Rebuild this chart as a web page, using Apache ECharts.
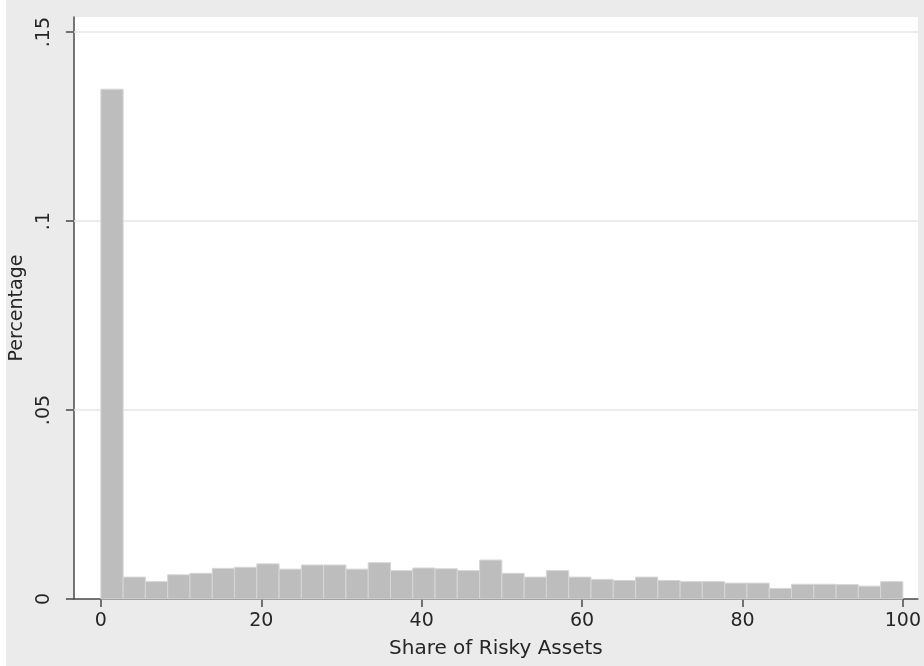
<!DOCTYPE html>
<html>
<head>
<meta charset="utf-8">
<script src="https://cdn.jsdelivr.net/npm/echarts@6/dist/echarts.min.js"></script>
<style>
  html, body { margin: 0; padding: 0; background: #fff; }
  #main { width: 924px; height: 666px; }
</style>
</head>
<body>
<div id="main"></div>
<script>
// histogram: 36 equal bins over 0..100
var binCount = 36;
var binWidth = 100 / binCount;
var shares = [
  0.1349, 0.0058, 0.0046, 0.0064, 0.0068, 0.0081, 0.0084, 0.0093, 0.0079,
  0.0090, 0.0090, 0.0079, 0.0096, 0.0075, 0.0082, 0.0080, 0.0075, 0.0103,
  0.0068, 0.0058, 0.0075, 0.0058, 0.0052, 0.0049, 0.0058, 0.0049, 0.0046,
  0.0046, 0.0042, 0.0042, 0.0028, 0.0039, 0.0039, 0.0038, 0.0034, 0.0046
];
var xTicks = [0, 20, 40, 60, 80, 100];
var yTicks = [0, 0.05, 0.1, 0.15];

var chartDom = document.getElementById('main');
var myChart = echarts.init(chartDom);

var barData = shares.map(function (v, i) {
  return [i * binWidth, (i + 1) * binWidth, v];
});

function fmtY(v) {
  if (v === 0) return '0';
  return String(v).replace(/^0/, '');
}

var axisColor = '#4a4a4a';
var textColor = '#262626';
var font = 'DejaVu Sans';

var option = {
  animation: false,
  backgroundColor: '#ebebeb',
  graphic: [
    { type: 'rect', left: 0, top: 0, shape: { width: 6, height: 666 }, style: { fill: '#ffffff' }, silent: true }
  ],
  grid: {
    left: 73, right: 6, top: 17, bottom: 67,
    show: true, backgroundColor: '#ffffff', borderWidth: 0
  },
  xAxis: {
    type: 'value',
    min: -3.36, max: 101.87,
    name: 'Share of Risky Assets',
    nameLocation: 'middle',
    nameGap: 40,
    nameTextStyle: { fontFamily: font, fontSize: 20, color: textColor },
    axisLine: { show: true, onZero: false, lineStyle: { color: axisColor, width: 1.5 } },
    axisTick: { show: true, length: 8, customValues: xTicks, lineStyle: { color: axisColor, width: 1.5 } },
    axisLabel: { customValues: xTicks, margin: 13, fontFamily: font, fontSize: 19, color: textColor },
    splitLine: { show: false }
  },
  yAxis: {
    type: 'value',
    min: 0, max: 0.154,
    name: 'Percentage',
    nameLocation: 'middle',
    nameGap: 45,
    nameRotate: 90,
    nameTextStyle: { fontFamily: font, fontSize: 19, color: textColor },
    axisLine: { show: true, onZero: false, lineStyle: { color: axisColor, width: 1.5 } },
    axisTick: { show: true, length: 8, customValues: yTicks, lineStyle: { color: axisColor, width: 1.5 } },
    axisLabel: {
      customValues: yTicks, rotate: 90, margin: 20,
      fontFamily: font, fontSize: 19, color: textColor,
      formatter: fmtY
    },
    splitLine: { show: false }
  },
  series: [{
    // grid lines only, kept under the bars
    type: 'line',
    data: [],
    z: 1,
    silent: true,
    markLine: {
      silent: true,
      symbol: 'none',
      z: 1,
      label: { show: false },
      lineStyle: { color: '#e6e6e6', width: 1.5, type: 'solid' },
      data: yTicks.slice(1).map(function (v) { return { yAxis: v }; })
    }
  }, {
    type: 'custom',
    data: barData,
    encode: { x: [0, 1], y: 2 },
    renderItem: function (params, api) {
      var p0 = api.coord([api.value(0), api.value(2)]);
      var p1 = api.coord([api.value(1), 0]);
      return {
        type: 'rect',
        shape: { x: p0[0], y: p0[1], width: p1[0] - p0[0], height: p1[1] - p0[1] },
        style: { fill: '#bdbdbd', stroke: '#d6d6d6', lineWidth: 1 }
      };
    },
    z: 6
  }]
};

myChart.setOption(option);
window.addEventListener('resize', function () { myChart.resize(); });
</script>
</body>
</html>
